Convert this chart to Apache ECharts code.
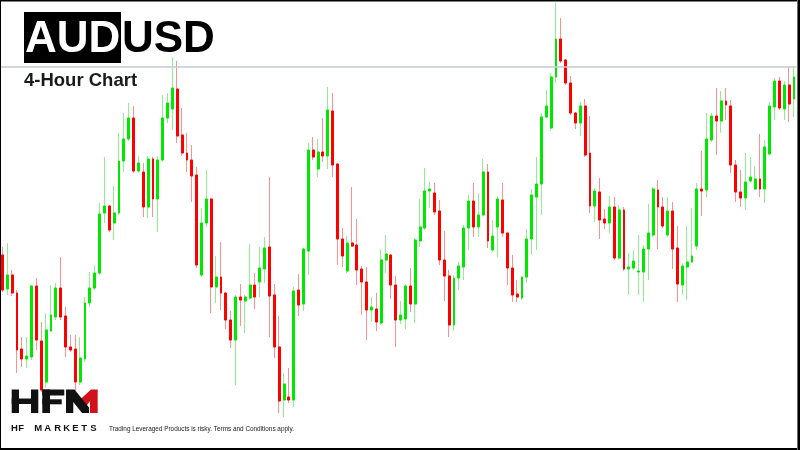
<!DOCTYPE html>
<html>
<head>
<meta charset="utf-8">
<title>AUDUSD 4-Hour Chart</title>
<script src="https://cdn.jsdelivr.net/npm/echarts@6/dist/echarts.min.js"></script>
<style>
  html, body { margin: 0; padding: 0; background: #fff; }
  #chart { width: 800px; height: 450px; }
</style>
</head>
<body>
<div id="chart"></div>
<script>
// 4h candles (price levels, arbitrary units, higher = higher price)
var opens = [
  195,161,175,157,101,91,93,164,109,68,
  119,133,162,134,103,101,68,91,147,162,
  177,237,244,227,237,289,311,332,279,278,
  243,291,251,290,332,341,361,315,297,290,
  275,175,227,251,163,173,157,130,110,153,
  149,152,165,168,181,203,155,103,50,53,
  50,160,146,199,300,281,298,294,339,286,
  211,179,207,205,181,168,140,141,127,190,
  195,165,130,131,164,146,209,222,259,257,
  239,190,174,125,172,183,222,249,223,235,
  278,200,223,250,217,182,156,152,173,211,
  253,266,333,322,373,411,390,367,337,327,
  344,297,244,258,231,227,243,192,240,181,
  182,178,178,201,215,260,243,215,239,202,
  165,183,188,204,261,260,310,334,329,349,
  344,285,258,252,269,261,271,261,296,343,
  369,341,365,351
];
var closes = [
  160,175,157,100,91,94,164,110,60,120,
  135,162,133,103,100,68,92,147,162,177,
  236,244,220,237,289,311,332,279,287,243,
  291,251,290,332,347,362,314,297,290,274,
  185,227,251,163,173,157,130,110,153,150,
  153,165,153,182,202,154,103,49,66,50,
  159,145,201,300,293,298,294,340,285,211,
  194,207,204,180,168,140,143,128,190,196,
  165,130,135,164,146,210,223,259,261,238,
  190,174,125,172,184,222,249,223,235,278,
  209,214,251,217,182,155,153,173,211,255,
  266,333,344,373,411,389,367,337,327,344,
  295,244,259,230,227,243,192,240,181,183,
  189,179,201,217,261,243,224,239,201,166,
  184,188,194,261,259,311,334,329,349,345,
  285,258,252,268,273,271,261,303,344,369,
  342,365,346,373
];
var lows = [
  158,155,154,77,83,82,90,100,58,62,
  118,130,130,93,98,55,65,88,143,160,
  175,227,218,210,235,278,309,277,277,233,
  232,233,218,288,327,320,307,294,278,248,
  182,173,223,137,147,140,121,102,65,124,
  117,150,141,153,167,113,92,37,33,47,
  43,134,139,175,290,273,288,281,273,185,
  183,177,203,165,135,110,128,119,125,177,
  151,103,126,121,138,127,203,220,242,235,
  185,149,113,119,160,170,200,213,213,234,
  202,198,193,213,165,148,148,150,167,195,
  200,235,332,319,367,387,365,335,321,314,
  293,237,228,211,221,217,190,190,179,155,
  180,155,148,170,213,201,222,213,181,148,
  155,150,187,200,234,253,308,295,317,330,
  277,248,243,240,267,260,253,247,295,330,
  340,330,328,333
];
var highs = [
  203,207,180,160,113,113,165,172,128,137,
  165,167,193,143,115,115,113,153,178,185,
  247,293,245,264,317,337,347,344,294,287,
  294,293,294,355,357,393,389,342,317,305,
  283,242,280,252,194,208,158,139,155,166,
  155,206,177,203,213,273,166,134,77,82,
  163,176,202,307,313,311,332,363,357,287,
  222,214,263,231,184,183,153,157,201,215,
  196,174,149,166,182,212,251,282,268,267,
  250,219,180,175,188,225,255,267,257,291,
  286,230,254,267,218,195,170,174,221,261,
  293,337,360,377,447,432,391,374,338,348,
  351,334,262,272,241,254,253,245,243,197,
  200,215,205,246,263,270,253,253,248,224,
  187,224,242,267,299,337,337,362,359,362,
  350,290,280,297,293,284,316,310,348,372,
  373,369,383,383
];
var resistance = 383;   // grey horizontal level near the top

var categories = opens.map(function (v, i) { return 'C' + (i + 1); });

var wickData = [];
var bodyData = [];
for (var i = 0; i < opens.length; i++) {
  wickData.push([opens[i], closes[i], lows[i], highs[i]]);
  // body only: wick collapsed inside the body
  bodyData.push([opens[i], closes[i], Math.min(opens[i], closes[i]), Math.max(opens[i], closes[i])]);
}

var UP = '#00e800', DOWN = '#ff0000';
var UP_WICK = '#8ef08e', DOWN_WICK = '#ff9090';

// HFM logo pieces
var logoLetters = ['H', 'F', 'M', 'A', 'R', 'K', 'E', 'T', 'S'];
var logoX = [11, 18.3, 34.3, 44.3, 54.3, 63.3, 72.3, 81.2, 90.2];

var graphics = [
  // frame
  { type: 'rect', shape: { x: 0, y: 0, width: 800, height: 1.5 }, style: { fill: '#000' }, z: 100 },
  { type: 'rect', shape: { x: 0, y: 0, width: 1, height: 450 }, style: { fill: '#000' }, z: 100 },
  { type: 'rect', shape: { x: 0, y: 448, width: 800, height: 2 }, style: { fill: '#000' }, z: 100 },
  { type: 'rect', shape: { x: 797, y: 0, width: 1, height: 450 }, style: { fill: '#888' }, z: 100 },
  { type: 'rect', shape: { x: 797.8, y: 0, width: 2.2, height: 450 }, style: { fill: '#000' }, z: 100 },
  // title
  { type: 'rect', shape: { x: 24, y: 12, width: 97, height: 51 }, style: { fill: '#000' }, z: 50 },
  { type: 'text', x: 25, y: 40, z: 51,
    style: { text: 'AUD', fill: '#fff', font: 'bold 44px "Liberation Sans", Arial, sans-serif', verticalAlign: 'middle' } },
  { type: 'text', x: 122, y: 40, z: 51,
    style: { text: 'USD', fill: '#000', font: 'bold 44px "Liberation Sans", Arial, sans-serif', verticalAlign: 'middle' } },
  { type: 'text', x: 24, y: 81, z: 51,
    style: { text: '4-Hour Chart', fill: '#1a1a1a', font: 'bold 18.5px "Liberation Sans", Arial, sans-serif', verticalAlign: 'middle' } },
  // logo: H
  { type: 'rect', shape: { x: 11.7, y: 389.5, width: 7.3, height: 23.5 }, style: { fill: '#111' }, z: 60 },
  { type: 'rect', shape: { x: 31, y: 389.5, width: 7.3, height: 23.5 }, style: { fill: '#111' }, z: 60 },
  { type: 'rect', shape: { x: 11.7, y: 398.5, width: 26, height: 5.5 }, style: { fill: '#111' }, z: 60 },
  // F
  { type: 'rect', shape: { x: 42.3, y: 389.5, width: 7.7, height: 23.5 }, style: { fill: '#111' }, z: 60 },
  { type: 'rect', shape: { x: 42.3, y: 389.5, width: 22, height: 6 }, style: { fill: '#111' }, z: 60 },
  { type: 'rect', shape: { x: 42.3, y: 399.3, width: 19.4, height: 5 }, style: { fill: '#111' }, z: 60 },
  // M
  { type: 'polygon', z: 60,
    shape: { points: [[91, 389.5], [97.7, 389.5], [97.7, 413], [90, 413], [90, 401], [85, 408], [78.5, 401]] },
    style: { fill: '#d0121b' } },
  { type: 'polygon', z: 61,
    shape: { points: [[66, 389.5], [74.5, 389.5], [89, 407.5], [89, 413], [82, 413], [73.3, 402], [73.3, 413], [66, 413]] },
    style: { fill: '#111' } },
  { type: 'text', x: 109, y: 429.5, z: 60,
    style: { text: 'Trading Leveraged Products is risky. Terms and Conditions apply.', fill: '#222',
             font: '6.4px "Liberation Sans", Arial, sans-serif', verticalAlign: 'middle' } }
];
logoLetters.forEach(function (ch, k) {
  graphics.push({ type: 'text', x: logoX[k], y: 428, z: 60,
    style: { text: ch, fill: '#111', font: 'bold 9.5px "Liberation Sans", Arial, sans-serif', verticalAlign: 'middle' } });
});

var chart = echarts.init(document.getElementById('chart'));
chart.setOption({
  animation: false,
  backgroundColor: '#fff',
  grid: { left: -2.2, right: 3.6, top: 0, bottom: 0 },
  xAxis: {
    type: 'category',
    data: categories,
    boundaryGap: true,
    show: false
  },
  yAxis: {
    type: 'value',
    min: 0,
    max: 450,
    show: false
  },
  series: [
    {
      name: 'wicks',
      type: 'candlestick',
      data: wickData,
      barWidth: 2.4,
      itemStyle: {
        color: UP_WICK, color0: DOWN_WICK,
        borderColor: UP_WICK, borderColor0: DOWN_WICK,
        borderWidth: 1
      },
      markLine: {
        silent: true,
        symbol: ['none', 'none'],
        label: { show: false },
        lineStyle: { color: '#c4c9cf', width: 1.5, type: 'solid' },
        data: [{ yAxis: resistance }]
      },
      z: 2
    },
    {
      name: 'bodies',
      type: 'candlestick',
      data: bodyData,
      barWidth: 2.4,
      itemStyle: {
        color: UP, color0: DOWN,
        borderColor: UP, borderColor0: DOWN,
        borderWidth: 1
      },
      z: 3
    }
  ],
  graphic: graphics
});
</script>
</body>
</html>
